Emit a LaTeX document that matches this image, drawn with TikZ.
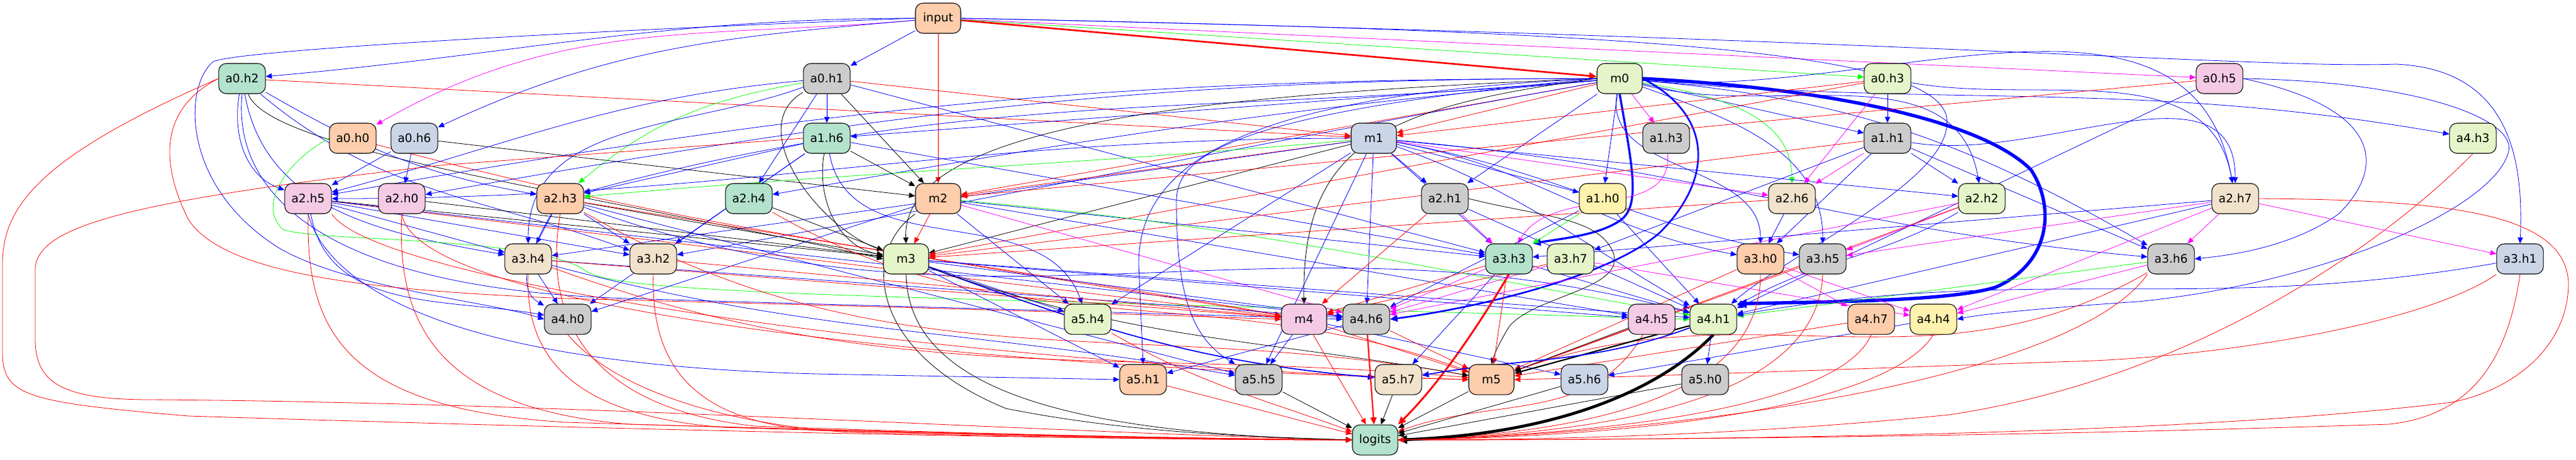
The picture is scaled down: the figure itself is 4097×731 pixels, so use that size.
\documentclass[tikz,border=0pt]{standalone}
\usepackage{fontspec}
\setmainfont{DejaVu Sans}
\usetikzlibrary{arrows.meta,backgrounds}
\definecolor{pG}{HTML}{B3E2CD}
\definecolor{pO}{HTML}{FDCDAC}
\definecolor{pB}{HTML}{CBD5E8}
\definecolor{pP}{HTML}{F4CAE4}
\definecolor{pL}{HTML}{E6F5C9}
\definecolor{pY}{HTML}{FFF2AE}
\definecolor{pE}{HTML}{F1E2CC}
\definecolor{pK}{HTML}{CCCCCC}
\definecolor{cB}{HTML}{0000FF}
\definecolor{cR}{HTML}{FF0000}
\definecolor{cG}{HTML}{00FF00}
\definecolor{cM}{HTML}{FF00FF}
\tikzset{
  nd/.style={draw=black, line width=0.16pt, rounded corners=1.8pt, minimum width=10.8pt, minimum height=7.2pt, inner xsep=1.6pt, inner ysep=0pt, font=\fontsize{2.8}{3.2}\selectfont},
  e/.style={line width=0.12pt, -{Triangle[length=1.3pt 1.2,width=1.1pt 1.2]}},
  eb/.style={e, draw=cB},
  er/.style={e, draw=cR},
  eg/.style={e, draw=cG},
  em/.style={e, draw=cM},
  ek/.style={e, draw=black}
}
\begin{document}
\begin{tikzpicture}[x=0.15pt,y=0.15pt]
\useasboundingbox (0,0) rectangle (4097,-731);
% nodes
\node[nd,fill=pO] (input) at (1492,-29) {input};
\node[nd,fill=pG] (a0h2) at (385,-125) {a0.h2};
\node[nd,fill=pK] (a0h1) at (1315,-125) {a0.h1};
\node[nd,fill=pL] (m0) at (2576,-125) {m0};
\node[nd,fill=pL] (a0h3) at (3002,-125) {a0.h3};
\node[nd,fill=pP] (a0h5) at (3530,-125) {a0.h5};
\node[nd,fill=pO] (a0h0) at (561,-220) {a0.h0};
\node[nd,fill=pB] (a0h6) at (659,-220) {a0.h6};
\node[nd,fill=pG] (a1h6) at (1315,-220) {a1.h6};
\node[nd,fill=pB] (m1) at (2185,-220) {m1};
\node[nd,fill=pK] (a1h3) at (2650,-220) {a1.h3};
\node[nd,fill=pK] (a1h1) at (3002,-220) {a1.h1};
\node[nd,fill=pL] (a4h3) at (3933,-220) {a4.h3};
\node[nd,fill=pP] (a2h5) at (490,-316) {a2.h5};
\node[nd,fill=pP] (a2h0) at (639,-316) {a2.h0};
\node[nd,fill=pO] (a2h3) at (891,-316) {a2.h3};
\node[nd,fill=pG] (a2h4) at (1191,-316) {a2.h4};
\node[nd,fill=pO] (m2) at (1492,-316) {m2};
\node[nd,fill=pK] (a2h1) at (2298,-316) {a2.h1};
\node[nd,fill=pY] (a1h0) at (2549,-316) {a1.h0};
\node[nd,fill=pE] (a2h6) at (2850,-316) {a2.h6};
\node[nd,fill=pL] (a2h2) at (3152,-316) {a2.h2};
\node[nd,fill=pE] (a2h7) at (3555,-316) {a2.h7};
\node[nd,fill=pE] (a3h4) at (840,-412) {a3.h4};
\node[nd,fill=pE] (a3h2) at (1039,-412) {a3.h2};
\node[nd,fill=pL] (m3) at (1441,-412) {m3};
\node[nd,fill=pG] (a3h3) at (2400,-412) {a3.h3};
\node[nd,fill=pL] (a3h7) at (2498,-412) {a3.h7};
\node[nd,fill=pO] (a3h0) at (2800,-412) {a3.h0};
\node[nd,fill=pK] (a3h5) at (2899,-412) {a3.h5};
\node[nd,fill=pK] (a3h6) at (3453,-412) {a3.h6};
\node[nd,fill=pB] (a3h1) at (4008,-412) {a3.h1};
\node[nd,fill=pK] (a4h0) at (903,-508) {a4.h0};
\node[nd,fill=pL] (a5h4) at (1730,-508) {a5.h4};
\node[nd,fill=pP] (m4) at (2074,-508) {m4};
\node[nd,fill=pK] (a4h6) at (2173,-508) {a4.h6};
\node[nd,fill=pP] (a4h5) at (2627,-508) {a4.h5};
\node[nd,fill=pL] (a4h1) at (2725,-508) {a4.h1};
\node[nd,fill=pO] (a4h7) at (2976,-508) {a4.h7};
\node[nd,fill=pY] (a4h4) at (3075,-508) {a4.h4};
\node[nd,fill=pO] (a5h1) at (1818,-604) {a5.h1};
\node[nd,fill=pK] (a5h5) at (2002,-604) {a5.h5};
\node[nd,fill=pE] (a5h7) at (2224,-604) {a5.h7};
\node[nd,fill=pO] (m5) at (2372,-604) {m5};
\node[nd,fill=pB] (a5h6) at (2520,-604) {a5.h6};
\node[nd,fill=pK] (a5h0) at (2712,-604) {a5.h0};
\node[nd,fill=pG] (logits) at (2187,-700) {logits};
\begin{pgfonlayer}{background}
% input
\draw[eb] (input) to[out=180,in=5] (a0h2);
\draw[eb] (input) -- (a0h1);
\draw[er, line width=0.4pt] (input) -- (m0);
\draw[eg] (input) -- (a0h3);
\draw[em] (input) -- (a0h5);
\draw[em] (input) to[out=185,in=30] (a0h0);
\draw[eb] (input) to[out=185,in=25] (a0h6);
\draw[er] (input) -- (m2);
\draw[eb] (input.east) .. controls (3000,-60) and (3600,-110) .. (3810,-102) .. controls (3990,-110) and (4014,-250) .. (a3h1.north);
\draw[eb] (input.west) .. controls (900,-50) and (380,-80) .. (339,-98) .. controls (290,-140) and (290,-300) .. (446,-396) .. controls (560,-460) and (780,-480) .. (a4h0.west);
\draw[eb] (input.east) .. controls (2600,-50) and (3060,-80) .. (3095,-182) .. controls (3120,-280) and (2850,-400) .. (a4h1);
% a0h2
\draw[eb] (a0h2) to[out=-100,in=160] (a2h5);
\draw[er] (a0h2.west) .. controls (60,-250) and (4,-330) .. (4,-420) -- (4,-560) .. controls (4,-630) and (40,-640) .. (300,-662) .. controls (1200,-690) and (1800,-700) .. (logits.west);
\draw[er] (a0h2) -- (m1);
\draw[er] (a0h2.west) .. controls (260,-170) and (250,-250) .. (300,-350) .. controls (360,-440) and (600,-462) .. (900,-475) .. controls (1500,-490) and (1800,-500) .. (m4.west);
\draw[ek] (a0h2) .. controls (430,-240) and (900,-300) .. (m3.west);
\draw[eb] (a0h2) to[out=-80,in=170] (a3h4);
\draw[eb] (a0h2) to[out=-40,in=160] (a3h2);
\draw[eb] (a0h2.south) .. controls (370,-300) and (500,-460) .. (1000,-475) .. controls (1500,-490) and (1900,-500) .. (a4h6.west);
\draw[eb] (a0h2) to[out=-30,in=170] (a2h3);
% a0h0
\draw[eg] (a0h0.west) .. controls (450,-260) and (410,-330) .. (450,-365) .. controls (500,-385) and (850,-375) .. (930,-430) .. controls (980,-470) and (1400,-470) .. (a4h1.west);
\draw[er] (a0h0) to[out=-15,in=170] (m4);
% a0h6
\draw[eb] (a0h6) -- (a2h5);
\draw[ek] (a0h6) -- (m2);
\draw[eb] (a0h6) -- (a2h0);
% a0h1
\draw[eb] (a0h1) -- (a1h6);
\draw[ek] (a0h1) -- (m2);
\draw[eb] (a0h1) -- (a2h4);
\draw[eg] (a0h1) to[out=190,in=40] (a2h3);
\draw[eb] (a0h1) to[out=185,in=15] (a2h5);
\draw[er] (a0h1) -- (m1);
\draw[ek] (a0h1) to[out=-150,in=160] (m3);
\draw[eb] (a0h1) to[out=-160,in=90] (a3h4);
\draw[eb] (a0h1) -- (a3h3);
% m0
\draw[eb] (m0) -- (a1h6);
\draw[eb] (m0) to[out=180,in=10] (a2h5);
\draw[eb] (m0) to[out=180,in=10] (a2h0);
\draw[eb] (m0) to[out=185,in=15] (a2h3);
\draw[eb] (m0) to[out=185,in=10] (a2h4);
\draw[er] (m0) -- (m1);
\draw[er] (m0) -- (m2);
\draw[em] (m0) -- (a1h3);
\draw[eb] (m0) -- (a1h1);
\draw[eb] (m0) -- (a2h1);
\draw[eb] (m0) -- (a1h0);
\draw[eg] (m0) to[out=-10,in=90] (a2h6);
\draw[eb] (m0) to[out=-15,in=100] (a2h2);
\draw[eb] (m0) to[out=-5,in=100] (a2h7);
\draw[eb, line width=0.5pt] (m0.south) .. controls (2597,-270) and (2610,-330) .. (2575,-352) .. controls (2540,-375) and (2480,-380) .. (a3h3.north east);
\draw[eb] (m0) to[out=-100,in=90] (a3h0);
\draw[eb] (m0) to[out=-20,in=90] (a3h5);
\draw[eb] (m0) to[out=-170,in=10] (a3h2);
\draw[ek] (m0.west) .. controls (1900,-150) and (1434,-200) .. (m3.north);
\draw[ek] (m0.west) .. controls (2200,-170) and (2070,-230) .. (m4.north);
\draw[eb, line width=0.4pt] (m0.east) .. controls (2720,-180) and (2730,-280) .. (2640,-370) .. controls (2560,-440) and (2350,-490) .. (a4h6.east);
\draw[eb, line width=0.8pt] (m0.east) .. controls (2900,-140) and (3150,-190) .. (3230,-270) .. controls (3270,-330) and (3260,-420) .. (3174,-457) .. controls (3100,-480) and (2900,-480) .. (a4h1.north east);
\draw[eb] (m0) to[out=-5,in=170] (a4h3);
\draw[eb] (m0) to[out=-5,in=150] (a3h6);
\draw[eb] (m0.west) .. controls (2000,-150) and (1811,-250) .. (1811,-420) -- (a5h1.north);
\draw[eb] (m0.west) .. controls (1950,-180) and (1871,-250) .. (1871,-320) .. controls (1871,-480) and (1900,-540) .. (a5h5.north west);
% m1
\draw[eb] (m1) -- (a2h1);
\draw[eb] (m1) -- (a1h0);
\draw[em] (m1) -- (a2h6);
\draw[eb] (m1) -- (a2h2);
\draw[eg] (m1) to[out=185,in=5] (a2h3);
\draw[eb] (m1) to[out=180,in=0] (a2h5);
\draw[er] (m1) -- (m2);
\draw[ek] (m1) -- (m3);
\draw[eb] (m1) -- (a3h3);
\draw[eb] (m1) to[out=-10,in=170] (a3h0);
\draw[eb] (m1) to[out=-10,in=170] (a3h5);
\draw[eb] (m1) to[out=-5,in=175] (a3h6);
\draw[eb] (m1) -- (a3h4);
\draw[eb] (m1) -- (a4h6);
\draw[eb] (m1) -- (a5h5);
\draw[eb] (m1) -- (a5h4);
\draw[eb] (m1) to[out=-20,in=150] (a4h1);
% a0h3
\draw[eb] (a0h3) -- (a1h1);
\draw[em] (a0h3) -- (a2h6);
\draw[er] (a0h3) -- (m1);
\draw[eb] (a0h3) to[out=-10,in=100] (a2h7);
\draw[er] (a0h3) -- (m3);
% a0h5
\draw[er] (a0h5) -- (m2);
\draw[eb] (a0h5.east) .. controls (3780,-170) and (3800,-260) .. (3720,-340) .. controls (3650,-390) and (3560,-405) .. (a3h6.east);
\draw[eb] (a0h5) -- (a4h1);
\draw[eb] (a0h5.east) .. controls (3850,-130) and (4000,-190) .. (3990,-240) .. controls (3970,-330) and (3700,-450) .. (3400,-480) .. controls (3250,-490) and (3150,-500) .. (a4h4.east);
% a1h6
\draw[ek] (a1h6) -- (m2);
\draw[eb] (a1h6) -- (a2h3);
\draw[eb] (a1h6) -- (a3h2);
\draw[eb] (a1h6) -- (a3h3);
\draw[eb] (a1h6) to[out=-80,in=110] (a5h4);
\draw[eb] (a1h6) -- (a4h0);
\draw[ek] (a1h6) to[out=-100,in=170] (m3);
\draw[er] (a1h6.west) -- (700,-263) .. controls (200,-320) and (56,-360) .. (56,-430) -- (56,-540) .. controls (56,-610) and (100,-636) .. (240,-636) .. controls (900,-640) and (1700,-690) .. (logits.west);
% a1h3
\draw[em] (a1h3) to[out=-85,in=60] (a3h3);
% a1h1
\draw[em] (a1h1) -- (a2h6);
\draw[eb] (a1h1) -- (a2h2);
\draw[eb] (a1h1) to[out=-10,in=90] (a2h7);
\draw[er] (a1h1) -- (m3);
\draw[eb] (a1h1) -- (a3h7);
\draw[eb] (a1h1) -- (a3h6);
\draw[eb] (a1h1) -- (a3h0);
% a4h3
\draw[er] (a4h3.south) .. controls (3800,-380) and (3500,-600) .. (3100,-660) .. controls (2800,-690) and (2500,-700) .. (logits.east);
% a2h5
\draw[ek] (a2h5) -- (m3);
\draw[eb] (a2h5) -- (a3h2);
\draw[eb] (a2h5) to[out=-80,in=170] (a4h0);
\draw[er] (a2h5.south) .. controls (487,-520) and (540,-650) .. (900,-672) .. controls (1500,-690) and (1900,-698) .. (logits.west);
\draw[er] (a2h5.south east) .. controls (600,-450) and (1500,-580) .. (m5.west);
\draw[er] (a2h5) -- (m4);
\draw[eb] (a2h5) -- (a4h6);
\draw[eb] (a2h5.south) .. controls (520,-450) and (700,-580) .. (1300,-595) -- (a5h1.west);
\draw[eb] (a2h5) -- (a3h4);
% a2h0
\draw[ek] (a2h0) -- (m3);
\draw[er] (a2h0.south) .. controls (630,-520) and (700,-650) .. (1000,-675) .. controls (1500,-690) and (1900,-698) .. (logits.west);
\draw[er] (a2h0.south) .. controls (660,-480) and (1400,-580) .. (m5.west);
% a2h3
\draw[eb] (a2h3) -- (a3h4);
\draw[eb] (a2h3) -- (a3h2);
\draw[eb] (a2h3) to[out=-120,in=150] (a4h0);
\draw[ek] (a2h3) -- (m3);
\draw[er] (a2h3.south) .. controls (860,-520) and (950,-650) .. (1200,-678) .. controls (1600,-692) and (1900,-698) .. (logits.west);
\draw[er] (a2h3) -- (m4);
\draw[er] (a2h3) to[out=-30,in=170] (m5);
\draw[eb] (a2h3) -- (a5h5);
\draw[eb] (a2h3) to[out=-20,in=165] (a4h1);
% a2h4
\draw[ek] (a2h4) -- (m3);
\draw[er] (a2h4) to[out=-30,in=160] (m5);
% m2
\draw[er] (m2) -- (m3);
\draw[eb] (m2) -- (a5h4);
\draw[eb] (m2) -- (a3h3);
\draw[ek] (m2.south west) .. controls (1370,-400) and (1380,-560) .. (1600,-650) .. controls (1800,-690) and (2000,-695) .. (logits.west);
\draw[eb] (m2) -- (a4h5);
\draw[eg] (m2) to[out=-5,in=170] (a4h1);
\draw[em] (m2) -- (a4h6);
\draw[eb] (m2) -- (a4h0);
% a2h1
\draw[em] (a2h1) -- (a3h3);
\draw[er] (a2h1) -- (m4);
\draw[ek] (a2h1.east) .. controls (2450,-345) and (2540,-345) .. (2565,-400) .. controls (2590,-460) and (2440,-470) .. (2400,-520) .. controls (2385,-545) and (2378,-560) .. (m5.north);
\draw[eb] (a2h1) -- (a4h1);
% a1h0
\draw[eg] (a1h0) -- (a3h3);
\draw[eb] (a1h0) -- (a4h6);
\draw[eb] (a1h0) -- (a4h1);
% a2h6
\draw[eb] (a2h6) -- (a3h0);
\draw[er] (a2h6) -- (m3);
% a2h2
\draw[em] (a2h2) -- (a3h5);
\draw[eb] (a2h2) to[out=-150,in=30] (a4h1);
\draw[er] (a2h2) -- (m5);
\draw[em] (a2h2) -- (a4h6);
% a2h7
\draw[em] (a2h7) -- (a3h6);
\draw[em] (a2h7) -- (a3h1);
\draw[em] (a2h7) -- (a3h5);
\draw[em] (a2h7) -- (a4h4);
\draw[eb] (a2h7) -- (a4h1);
\draw[eb] (a2h7) -- (a3h3);
\draw[er] (a2h7.east) .. controls (3900,-318) and (4080,-340) .. (4085,-450) .. controls (4085,-550) and (4000,-620) .. (3900,-640) .. controls (3500,-690) and (2800,-700) .. (logits.east);
% a3h4
\draw[eb] (a3h4) -- (a4h0);
\draw[er] (a3h4.south) .. controls (835,-560) and (900,-660) .. (1150,-680) .. controls (1600,-694) and (1900,-699) .. (logits.west);
\draw[er] (a3h4) to[out=-20,in=175] (m5);
\draw[eb] (a3h4) to[out=-15,in=170] (a5h5);
\draw[eb] (a3h4) -- (a4h6);
\draw[er] (a3h4) -- (m4);
% a3h2
\draw[er] (a3h2.south) .. controls (1035,-580) and (1100,-670) .. (1300,-685) .. controls (1700,-695) and (1950,-699) .. (logits.west);
\draw[er] (a3h2) -- (m4);
% m3
\draw[eb] (m3) -- (a5h4);
\draw[eb] (m3) -- (a5h1);
\draw[eb, line width=0.26pt] (m3) to[out=-20,in=175] (a5h7);
\draw[ek] (m3.south) .. controls (1445,-620) and (1700,-690) .. (logits.west);
\draw[eb] (m3) -- (a4h1);
\draw[ek] (m3) to[out=-20,in=170] (m5);
\draw[eb] (m3) -- (a4h5);
\draw[eb] (m3) -- (a4h6);
% a3h3
\draw[er, line width=0.44pt] (a3h3.south) .. controls (2350,-520) and (2290,-610) .. (logits.north east);
\draw[er] (a3h3) -- (m5);
\draw[er] (a3h3) -- (m4);
\draw[eb] (a3h3) -- (a5h7);
\draw[em] (a3h3) -- (a4h6);
\draw[eb] (a3h3) -- (a4h1);
% a3h7
\draw[em] (a3h7) -- (a4h6);
\draw[er] (a3h7) -- (m4);
\draw[em] (a3h7) -- (a4h4);
% a3h0
\draw[em] (a3h0) -- (a4h7);
\draw[em] (a3h0) -- (a4h4);
\draw[er] (a3h0.south) .. controls (2800,-640) and (2500,-690) .. (logits.east);
\draw[er] (a3h0) -- (m5);
% a3h5
\draw[er] (a3h5.south) .. controls (2890,-640) and (2550,-690) .. (logits.east);
\draw[er] (a3h5) -- (m5);
% a3h6
\draw[em] (a3h6) -- (a4h4);
\draw[er] (a3h6) to[out=-150,in=20] (m5);
\draw[er] (a3h6.south west) .. controls (3300,-600) and (2700,-690) .. (logits.east);
\draw[eg] (a3h6) -- (a4h1);
% a3h1
\draw[er] (a3h1.south west) .. controls (3850,-520) and (3500,-570) .. (3300,-575) .. controls (3000,-585) and (2600,-600) .. (m5.east);
\draw[er] (a3h1.south) .. controls (3990,-560) and (3940,-660) .. (3800,-675) .. controls (3200,-695) and (2600,-700) .. (logits.east);
\draw[eb] (a3h1) to[out=190,in=10] (a4h1);
% row 5
\draw[er] (a4h0.south) .. controls (960,-600) and (1100,-670) .. (1350,-688) .. controls (1700,-697) and (1950,-700) .. (logits.west);
\draw[er] (a5h4) to[out=-30,in=160] (logits);
\draw[eb] (m4) -- (a5h5);
\draw[er] (m4) -- (logits);
\draw[er] (m4) -- (m5);
\draw[eb] (m4) -- (a5h6);
\draw[er, line width=0.32pt] (a4h6) -- (logits);
\draw[er] (a4h6) -- (m5);
\draw[eb] (a4h6) -- (a5h1);
\draw[ek] (a4h5) -- (m5);
\draw[er] (a4h5) to[out=-120,in=20] (logits);
\draw[ek, line width=0.7pt] (a4h1.south) .. controls (2640,-620) and (2480,-690) .. (logits.east);
\draw[ek, line width=0.32pt] (a4h1) -- (m5);
\draw[eb, line width=0.26pt] (a4h1) to[out=-160,in=10] (a5h7);
\draw[eb] (a4h1) -- (a5h0);
\draw[er] (a4h7.south) .. controls (2930,-640) and (2600,-690) .. (logits.east);
\draw[er] (a4h7) -- (m5);
\draw[er] (a4h4.south) .. controls (3000,-650) and (2600,-695) .. (logits.east);
\draw[eb] (a4h4) to[out=-170,in=10] (a5h6);
% row 6
\draw[er] (a5h1) -- (logits);
\draw[ek] (a5h5) -- (logits);
\draw[ek] (a5h7) -- (logits);
\draw[ek] (m5) -- (logits);
\draw[ek] (a5h6) -- (logits);
\draw[ek] (a5h0) -- (logits);
\end{pgfonlayer}
\end{tikzpicture}
\end{document}
